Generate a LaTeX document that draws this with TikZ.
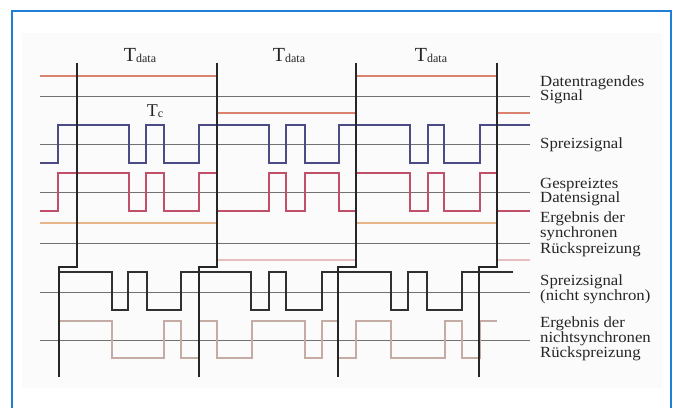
\documentclass[tikz,border=0pt]{standalone}
\usepackage{fontspec}
\setmainfont{Liberation Serif}
\newfontfamily\lblfont[FakeStretch=1.08]{Liberation Serif}
\definecolor{framec}{HTML}{1F7ED6}
\definecolor{datac}{HTML}{D9826E}
\definecolor{spreadc}{HTML}{4B4B85}
\definecolor{gespc}{HTML}{C0506A}
\definecolor{synchi}{HTML}{E8B48A}
\definecolor{synclo}{HTML}{E6C0C0}
\definecolor{basec}{HTML}{707070}
\definecolor{nsspc}{HTML}{303030}
\definecolor{nsresc}{HTML}{C4ACA4}
\begin{document}
\begin{tikzpicture}[x=1pt,y=-1pt,
  frame/.style={draw=framec,line width=2pt},
  baseln/.style={draw=basec,line width=1pt},
  sig/.style={line width=1.3pt,line join=miter},
  stair/.style={draw=black!85,line width=2.4pt,line join=miter},
  lbl/.style={font=\lblfont\fontsize{15.5}{15.5}\selectfont,text=black!85,inner sep=0pt,anchor=base west},
  tlbl/.style={text=black!85,inner sep=0pt,anchor=base}]
\useasboundingbox (0,0) rectangle (676,407);
\clip (0,0) rectangle (676,407);
\fill[white] (0,0) rectangle (676,407);
\fill[black!1.5] (22,33) rectangle (662,388);
\draw[frame] (12,11) rectangle (671,430);

% baselines
\foreach \yy in {96,144,192,243,292,340}
  \draw[baseln] (40,\yy) -- (530,\yy);

% data signal
\draw[sig,datac] (40,76) -- (217,76) -- (217,113) -- (356,113) -- (356,76) -- (497,76) -- (497,113) -- (530,113);

% spreading signal
\draw[sig,spreadc] (40,163) -- (58,163) -- (58,125) -- (129,125) -- (129,163) -- (146,163) -- (146,125) -- (164,125) -- (164,163) -- (199,163) -- (199,125) -- (269,125) -- (269,163) -- (286,163) -- (286,125) -- (305,125) -- (305,163) -- (339,163) -- (339,125) -- (410,125) -- (410,163) -- (428,163) -- (428,125) -- (444,125) -- (444,163) -- (480,163) -- (480,125) -- (530,125);

% spread data signal
\draw[sig,gespc] (40,211) -- (58,211) -- (58,173) -- (129,173) -- (129,211) -- (146,211) -- (146,173) -- (164,173) -- (164,211) -- (199,211) -- (199,173) -- (217,173) -- (217,211) -- (269,211) -- (269,173) -- (286,173) -- (286,211) -- (305,211) -- (305,173) -- (339,173) -- (339,211) -- (356,211) -- (356,173) -- (410,173) -- (410,211) -- (428,211) -- (428,173) -- (444,173) -- (444,211) -- (480,211) -- (480,173) -- (497,173) -- (497,211) -- (530,211);

% synchronous despreading result
\draw[sig,synchi] (40,223) -- (217,223);
\draw[sig,synclo] (217,260) -- (356,260);
\draw[sig,synchi] (356,223) -- (497,223);
\draw[sig,synclo] (497,260) -- (530,260);

% non-synchronous spreading signal
\draw[line width=2pt,nsspc] (59,272) -- (112,272) -- (112,310) -- (128,310) -- (128,272) -- (147,272) -- (147,310) -- (181,310) -- (181,272) -- (251,272) -- (251,310) -- (269,310) -- (269,272) -- (286,272) -- (286,310) -- (322,310) -- (322,272) -- (391,272) -- (391,310) -- (408,310) -- (408,272) -- (427,272) -- (427,310) -- (462,310) -- (462,272) -- (513,272);

% non-synchronous despreading result
\draw[sig,nsresc] (59,321) -- (112,321) -- (112,358) -- (164,358) -- (164,321) -- (181,321) -- (181,358) -- (199,358) -- (199,321) -- (217,321) -- (217,358) -- (252,358) -- (252,321) -- (305,321) -- (305,358) -- (322,358) -- (322,321) -- (338,321) -- (338,358) -- (356,358) -- (356,321) -- (391,321) -- (391,358) -- (445,358) -- (445,321) -- (462,321) -- (462,358) -- (480,358) -- (480,321) -- (497,321);

% period boundaries (staircases)
\foreach \xa/\xb in {77/59,217/199,356/338,497/479}
  \draw[stair] (\xa,63) -- (\xa,267) -- (\xb,267) -- (\xb,377);

% period labels
\node[tlbl] (td1) at (140,61) {{\fontsize{20}{20}\selectfont T}\raisebox{-1.5pt}{\fontsize{12}{12}\selectfont data}};
\node[tlbl] (td2) at (289,61) {{\fontsize{20}{20}\selectfont T}\raisebox{-1.5pt}{\fontsize{12}{12}\selectfont data}};
\node[tlbl] (td3) at (431,61) {{\fontsize{20}{20}\selectfont T}\raisebox{-1.5pt}{\fontsize{12}{12}\selectfont data}};
\node[tlbl] (tc) at (155,116) {{\fontsize{18}{18}\selectfont T}\raisebox{-1.5pt}{\fontsize{12}{12}\selectfont c}};

% right-hand labels
\node[lbl] (l1a) at (540,86) {Datentragendes};
\node[lbl] (l1b) at (540,100.5) {Signal};
\node[lbl] (l2) at (540,148) {Spreizsignal};
\node[lbl] (l3a) at (540,188) {Gespreiztes};
\node[lbl] (l3b) at (540,202.5) {Datensignal};
\node[lbl] (l4a) at (540,222) {Ergebnis der};
\node[lbl] (l4b) at (540,237) {synchronen};
\node[lbl] (l4c) at (540,253) {Rückspreizung};
\node[lbl] (l5a) at (540,285) {Spreizsignal};
\node[lbl] (l5b) at (540,300) {(nicht synchron)};
\node[lbl] (l6a) at (540,327) {Ergebnis der};
\node[lbl] (l6b) at (540,342) {nichtsynchronen};
\node[lbl] (l6c) at (540,357) {Rückspreizung};
\end{tikzpicture}
\end{document}
